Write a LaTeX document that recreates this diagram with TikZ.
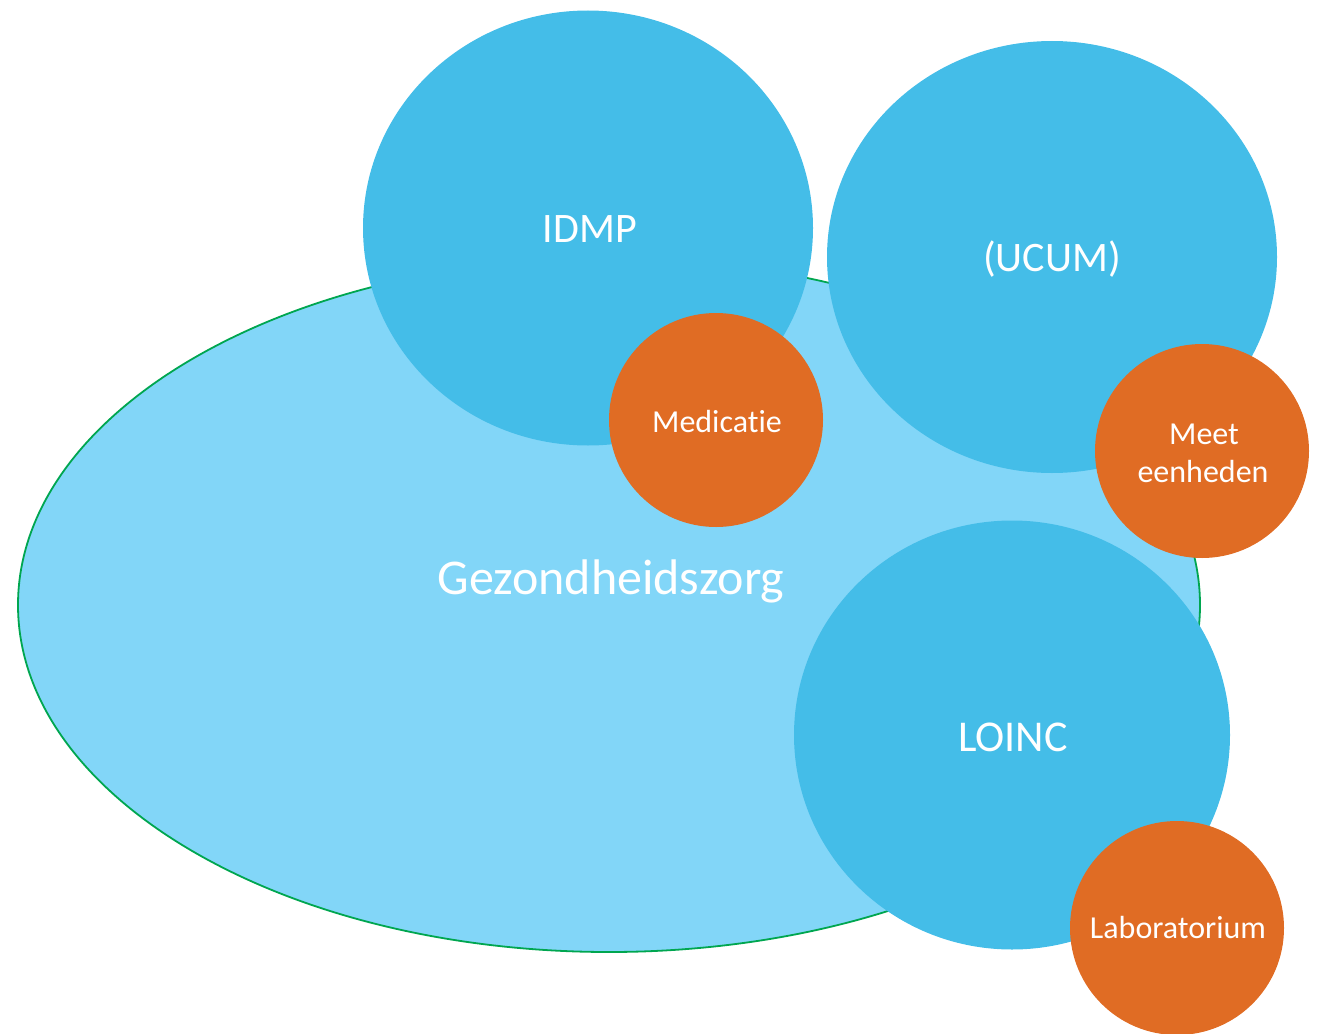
\documentclass[tikz,border=0pt]{standalone}
\usepackage{fontspec}
\setmainfont[Ligatures=NoCommon]{Carlito}
\usetikzlibrary{shapes.geometric}
\definecolor{lightblue}{HTML}{82D6F8}
\definecolor{midblue}{HTML}{44BDE8}
\definecolor{orng}{HTML}{E06C24}
\definecolor{grn}{HTML}{00A650}
\tikzset{
  bigcirc/.style={ellipse, fill=midblue, draw=none, inner sep=0pt},
  smallcirc/.style={circle, fill=orng, draw=none, inner sep=0pt, minimum size=214pt},
  bigtxt/.style={anchor=base, text=white, font=\fontsize{42}{50}\selectfont},
  smalltxt/.style={anchor=base, text=white, font=\fontsize{32}{38}\selectfont, align=center},
}
\begin{document}
\begin{tikzpicture}[x=1pt,y=-1pt]
\useasboundingbox (0,0) rectangle (1330,1033);
\node[ellipse, fill=lightblue, draw=grn, line width=1.8pt, minimum width=1182pt, minimum height=694pt, inner sep=0pt] (health) at (609,605) {};
\node[bigcirc, minimum width=450pt, minimum height=435pt] (idmp) at (588,228) {};
\node[bigcirc, minimum width=450pt, minimum height=432pt] (ucum) at (1052,257) {};
\node[bigcirc, minimum width=436pt, minimum height=429pt] (loinc) at (1012,735) {};
\node[smallcirc] (med) at (716,420) {};
\node[smallcirc] (meet) at (1202,451) {};
\node[smallcirc] (lab) at (1177,928) {};
\node[bigtxt, font=\fontsize{50}{60}\selectfont] (thealth) at (611,594) {Gezondheidszorg};
\node[bigtxt] (tidmp) at (590,242) {IDMP};
\node[bigtxt] (tucum) at (1052,271) {(UCUM)};
\node[bigtxt, font=\fontsize{44}{50}\selectfont] (tloinc) at (1013,751) {LOINC};
\node[smalltxt] (tmed) at (717,432) {Medicatie};
\node[smalltxt] (tmeet1) at (1204,444) {Meet};
\node[smalltxt] (tmeet2) at (1203,482) {eenheden};
\node[smalltxt] (tlab) at (1178,938) {Laboratorium};
\end{tikzpicture}
\end{document}
